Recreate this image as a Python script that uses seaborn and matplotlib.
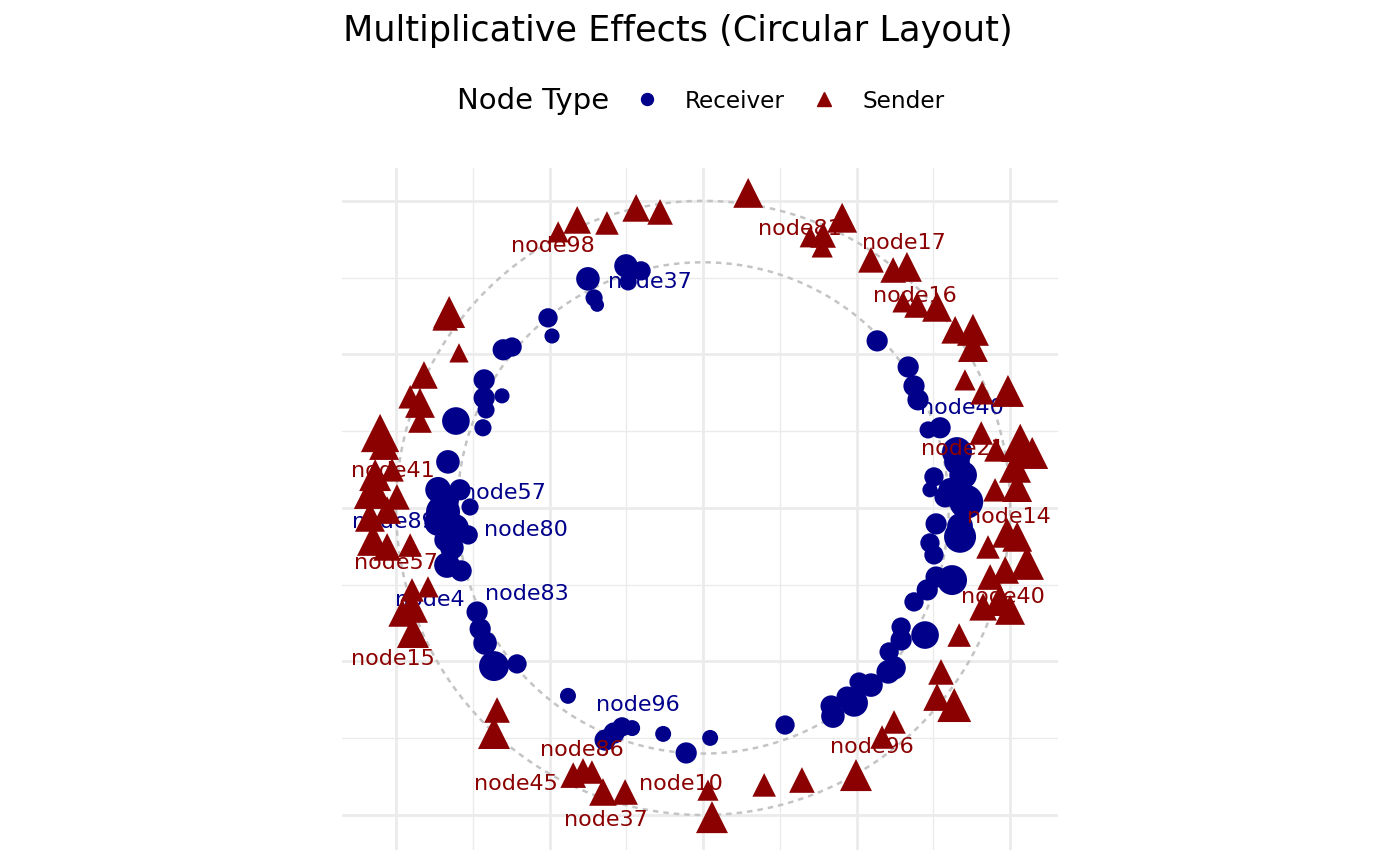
import numpy as np
import pandas as pd
import matplotlib
matplotlib.use("Agg")
import matplotlib.pyplot as plt
from matplotlib.lines import Line2D
from matplotlib.ticker import MultipleLocator
import seaborn as sns

# receiver effects (inner ring)
recv_x = [-0.375, -0.251, -0.202, -0.244, -0.355, -0.345, -0.505, -0.492, -0.651, -0.622,
          -0.713, -0.713, -0.655, -0.707, -0.805, -0.717, -0.831, -0.863, -0.792, -0.759,
          -0.847, -0.808, -0.765, -0.818, -0.834, -0.788, -0.736, -0.726, -0.710, -0.681,
          -0.606, -0.440, -0.319, -0.290, -0.264, -0.231, -0.130, -0.055, 0.023, 0.267,
          0.423, 0.417, 0.492, 0.469, 0.508, 0.547, 0.603, 0.622, 0.606, 0.645,
          0.645, 0.723, 0.687, 0.730, 0.759, 0.811, 0.752, 0.739, 0.759, 0.837,
          0.567, 0.668, 0.687, 0.700, 0.733, 0.772, 0.827, 0.827, 0.752, 0.739,
          0.847, 0.788, 0.857, 0.805, 0.837, -0.840, -0.863, -0.837]
recv_y = [0.746, 0.788, 0.772, 0.736, 0.684, 0.661, 0.619, 0.560, 0.515, 0.524,
          0.417, 0.358, 0.365, 0.319, 0.283, 0.261, 0.150, 0.059, 0.059, 0.003,
          -0.013, -0.065, -0.088, -0.130, -0.186, -0.205, -0.339, -0.394, -0.440, -0.515,
          -0.508, -0.612, -0.756, -0.733, -0.713, -0.717, -0.736, -0.798, -0.749, -0.707,
          -0.678, -0.645, -0.635, -0.616, -0.567, -0.577, -0.534, -0.521, -0.469, -0.430,
          -0.388, -0.414, -0.306, -0.267, -0.225, -0.235, -0.153, -0.114, -0.052, -0.094,
          0.544, 0.459, 0.397, 0.352, 0.254, 0.261, 0.182, 0.150, 0.101, 0.059,
          0.107, 0.036, 0.020, 0.059, -0.059, 0.026, -0.046, -0.104]
recv_effect = [0.30, 0.30, 0.16, 0.10, 0.10, 0.02, 0.16, 0.05, 0.22, 0.16,
               0.22, 0.22, 0.05, 0.10, 0.46, 0.10, 0.30, 0.38, 0.22, 0.10,
               0.76, 0.46, 0.16, 0.30, 0.38, 0.22, 0.22, 0.22, 0.30, 0.56,
               0.16, 0.07, 0.22, 0.22, 0.16, 0.07, 0.07, 0.22, 0.07, 0.16,
               0.30, 0.22, 0.46, 0.22, 0.16, 0.30, 0.30, 0.30, 0.16, 0.22,
               0.16, 0.46, 0.16, 0.22, 0.22, 0.56, 0.16, 0.16, 0.22, 0.66,
               0.22, 0.22, 0.22, 0.22, 0.10, 0.22, 0.56, 0.38, 0.16, 0.05,
               0.46, 0.22, 0.76, 0.30, 0.38, 0.46, 0.46, 0.30]

# sender effects (outer ring)
send_x = [0.147, -0.218, -0.140, -0.313, -0.410, -0.472, 0.453, 0.391, 0.349, 0.388,
          0.547, 0.619, 0.664, 0.651, 0.697, 0.762, 0.821, 0.879, 0.879, 0.853,
          0.909, 0.993, 0.906, 0.954, 1.033, 1.072, 1.016, 0.951, 1.023, 0.928,
          0.990, 1.023, 1.055, 0.935, 0.984, 0.967, 0.912, 1.000, 0.834, 0.775,
          0.762, 0.818, 0.622, 0.583, 0.498, 0.322, 0.199, 0.029, 0.016, -0.254,
          -0.326, -0.362, -0.391, -0.423, -0.671, -0.681, -0.945, -0.980, -0.948, -0.948,
          -0.896, -0.954, -1.029, -1.075, -1.085, -1.029, -0.997, -1.075, -1.068, -1.013,
          -1.052, -1.039, -0.922, -0.922, -0.954, -0.909, -0.795, -0.827, -0.840]
send_y = [1.026, 0.977, 0.964, 0.928, 0.938, 0.899, 0.945, 0.889, 0.883, 0.850,
          0.808, 0.775, 0.785, 0.671, 0.661, 0.655, 0.580, 0.580, 0.524, 0.417,
          0.375, 0.381, 0.244, 0.189, 0.212, 0.179, 0.134, 0.059, 0.068, -0.127,
          -0.081, -0.094, -0.179, -0.225, -0.202, -0.300, -0.322, -0.332, -0.414, -0.534,
          -0.616, -0.642, -0.697, -0.746, -0.870, -0.886, -0.902, -1.007, -0.919, -0.925,
          -0.925, -0.860, -0.853, -0.870, -0.658, -0.733, -0.404, -0.342, -0.322, -0.267,
          -0.257, -0.121, -0.127, -0.104, -0.029, -0.007, 0.036, 0.059, 0.107, 0.124,
          0.244, 0.205, 0.283, 0.342, 0.362, 0.433, 0.505, 0.638, 0.619]
send_effect = [0.56, 0.46, 0.38, 0.30, 0.46, 0.22, 0.56, 0.38, 0.22, 0.22,
               0.38, 0.38, 0.56, 0.22, 0.38, 0.56, 0.46, 0.66, 0.56, 0.22,
               0.30, 0.66, 0.30, 0.30, 1.00, 0.66, 0.66, 0.30, 0.56, 0.30,
               0.56, 0.56, 0.76, 0.38, 0.46, 0.66, 0.46, 0.56, 0.30, 0.38,
               0.46, 0.76, 0.30, 0.30, 0.66, 0.38, 0.30, 0.66, 0.22, 0.38,
               0.46, 0.30, 0.30, 0.38, 0.38, 0.66, 0.66, 0.46, 0.66, 0.30,
               0.22, 0.30, 0.46, 0.66, 0.56, 0.46, 0.38, 1.00, 0.66, 0.30,
               1.00, 0.56, 0.30, 0.56, 0.30, 0.46, 0.16, 0.66, 0.38]

# labelled nodes
recv_labels = ["node37", "node40", "node57", "node89", "node80", "node4", "node83", "node96"]
recv_label_x = [-0.173, 0.844, -0.648, -1.007, -0.577, -0.889, -0.573, -0.212]
recv_label_y = [0.736, 0.326, 0.049, -0.046, -0.072, -0.300, -0.280, -0.642]

send_labels = ["node98", "node81", "node17", "node16", "node21", "node14", "node40", "node96",
               "node10", "node37", "node45", "node86", "node15", "node57", "node41"]
send_label_x = [-0.489, 0.316, 0.655, 0.691, 0.847, 0.997, 0.977, 0.550,
                -0.072, -0.316, -0.609, -0.394, -1.010, -1.000, -1.010]
send_label_y = [0.853, 0.909, 0.863, 0.691, 0.192, -0.029, -0.290, -0.779,
                -0.899, -1.016, -0.899, -0.788, -0.492, -0.179, 0.121]

BLUE = "#00008B"
RED = "#8B0000"

sns.set_theme(style="white")
plt.rcParams["font.family"] = ["DejaVu Sans"]
plt.rcParams["text.color"] = "black"

df_r = pd.DataFrame({"x": recv_x, "y": recv_y, "effect": recv_effect})
df_s = pd.DataFrame({"x": send_x, "y": send_y, "effect": send_effect})

fig = plt.figure(figsize=(14, 8.66), dpi=100)
ax = fig.add_axes([341.7 / 1400, 16 / 866, 716.3 / 1400, 682 / 866])

# reference rings
theta = np.linspace(0, 2 * np.pi, 400)
for r in (0.8, 1.0):
    ax.plot(r * np.cos(theta), r * np.sin(theta), ls=(0, (2.2, 2.0)),
            color="#c4c4c4", lw=1.8, zorder=1)

size_kw = dict(size="effect", sizes=(85, 760), size_norm=(0, 1), legend=False, linewidth=0)

for lab, lx, ly in zip(recv_labels, recv_label_x, recv_label_y):
    ax.text(lx, ly, lab, color=BLUE, fontsize=16, ha="center", va="center", zorder=2)
sns.scatterplot(data=df_r, x="x", y="y", color=BLUE, marker="o", ax=ax, zorder=3, **size_kw)

for lab, lx, ly in zip(send_labels, send_label_x, send_label_y):
    ax.text(lx, ly, lab, color=RED, fontsize=16, ha="center", va="center", zorder=4)
sns.scatterplot(data=df_s, x="x", y="y", color=RED, marker="^", ax=ax, zorder=5, **size_kw)

ax.set_xlim(-1.177, 1.156)
ax.set_ylim(-1.114, 1.107)
for axis in (ax.xaxis, ax.yaxis):
    axis.set_major_locator(MultipleLocator(0.5))
    axis.set_minor_locator(MultipleLocator(0.25))
ax.grid(which="major", color="#EBEBEB", lw=2.0)
ax.grid(which="minor", color="#EBEBEB", lw=1.0)
ax.set_axisbelow(True)
ax.tick_params(which="both", length=0, labelbottom=False, labelleft=False)
ax.set_xlabel("")
ax.set_ylabel("")
for sp in ax.spines.values():
    sp.set_visible(False)

fig.text(343 / 1400, 1 - 41 / 866, "Multiplicative Effects (Circular Layout)",
         fontsize=25.3, ha="left", va="baseline", color="black")

fig.text(457 / 1400, 1 - 101 / 866, "Node Type", fontsize=21, ha="left", va="center",
         color="black")
handles = [Line2D([], [], marker="o", ls="", color=BLUE, markersize=8.6),
           Line2D([], [], marker="^", ls="", color=RED, markersize=10.5)]
fig.legend(handles, ["Receiver", "Sender"], loc="center left",
           bbox_to_anchor=(635.5 / 1400, 1 - 101 / 866), ncol=2, frameon=False,
           fontsize=16.7, handlelength=1.0, handletextpad=1.13, columnspacing=1.2,
           borderpad=0, borderaxespad=0, labelcolor="black")

fig.savefig("out.png", dpi=100)
